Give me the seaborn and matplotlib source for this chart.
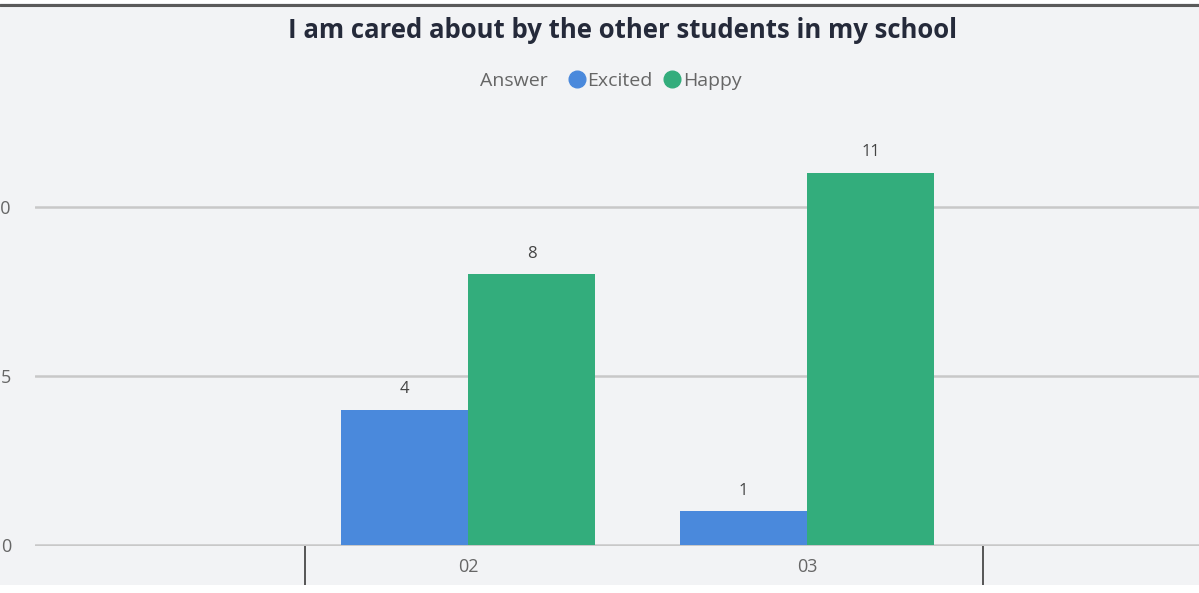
import pandas as pd
import matplotlib.pyplot as plt
from matplotlib.lines import Line2D
from matplotlib.patches import Rectangle
import seaborn as sns

# data
categories = ['02', '03']
answers = ['Excited', 'Happy']
excited = [4, 1]
happy = [8, 11]
y_ticks = [0, 5, 10]
title = 'I am cared about by the other students in my school'

colors = {'Excited': '#4a89dc', 'Happy': '#33ad7c'}
bg = '#f2f3f5'

df = pd.DataFrame({
    'category': categories * 2,
    'Answer': ['Excited'] * len(excited) + ['Happy'] * len(happy),
    'count': excited + happy,
})

sns.set_theme(style='white')
plt.rcParams['font.family'] = ['Open Sans', 'DejaVu Sans']

W, H = 1199, 593
fig = plt.figure(figsize=(W / 100, H / 100), dpi=100, facecolor=bg)
ax = fig.add_axes([35 / W, 47 / H, (W - 35) / W, 407 / H])
ax.set_facecolor(bg)

sns.barplot(data=df, x='category', y='count', hue='Answer', hue_order=answers,
            palette=colors, width=0.75, saturation=1, errorbar=None,
            legend=False, linewidth=0, ax=ax)

for cont in ax.containers:
    ax.bar_label(cont, padding=9, fontsize=12, color='#444444')

ax.set_xlim(-1.277, 2.156)
ax.set_ylim(-0.03, 12)
ax.set_yticks(y_ticks)
ax.set_xlabel('')
ax.set_ylabel('')
ax.yaxis.grid(True, color='#c8c8c8', lw=1.8)
ax.set_axisbelow(True)
sns.despine(ax=ax, left=True, bottom=True, top=True, right=True)

ax.tick_params(axis='y', length=0, pad=17, labelsize=13, labelcolor='#666666')
ax.tick_params(axis='x', which='major', length=0, pad=9, labelsize=13,
               labelcolor='#666666')
ax.set_xticks([-0.48, 1.52], minor=True)
ax.tick_params(axis='x', which='minor', bottom=True, length=30, width=1.4,
               color='#555555', direction='out')

# legend
fig.text(548 / W, 1 - 81 / H, 'Answer', ha='right', va='center',
         fontsize=14, color='#666666')
handles = [Line2D([], [], marker='o', ls='', markersize=12,
                  markerfacecolor=colors[a], markeredgecolor=colors[a])
           for a in answers]
fig.legend(handles, answers, loc='center left',
           bbox_to_anchor=(569 / W, 1 - 81 / H), borderaxespad=0, borderpad=0,
           ncol=2, frameon=False, handlelength=0.8, handletextpad=0.15,
           columnspacing=0.6, fontsize=14, labelcolor='#666666')

fig.text(622 / W, 1 - 30 / H, title, ha='center', va='center', fontsize=18.5,
         fontweight='bold', color='#252a3a')

# frame edges from the screenshot
fig.add_artist(Rectangle((0, 1 - 3 / H), 1, 3 / H, transform=fig.transFigure,
                         color='white', lw=0))
fig.add_artist(Line2D([0, 1], [1 - 4.5 / H] * 2, transform=fig.transFigure,
                      color='#5a5a5a', lw=2.2))
fig.add_artist(Rectangle((0, 0), 1, 8 / H, transform=fig.transFigure,
                         color='white', lw=0, zorder=5))

fig.savefig('out.png', dpi=100, facecolor=bg)
